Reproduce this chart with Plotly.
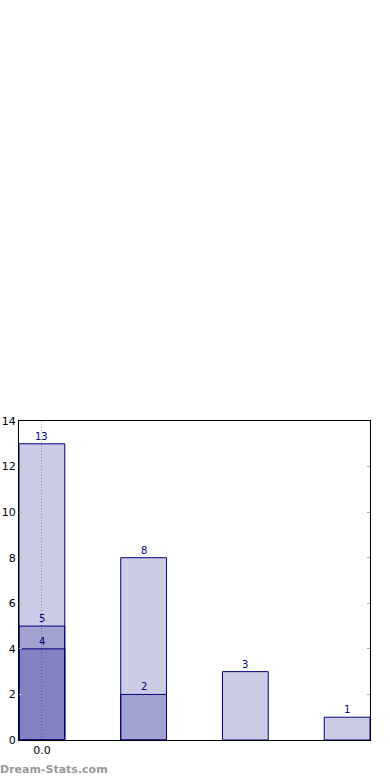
import plotly.graph_objects as go

categories = [0, 1, 2, 3]
series_total = [13, 8, 3, 1]
series_mid = [5, 2, None, None]
series_low = [4, None, None, None]
y_ticks = [0, 2, 4, 6, 8, 10, 12, 14]

NAVY = "#000080"
FILL = "rgba(0,0,128,0.2)"

fig = go.Figure()
for vals in (series_total, series_mid, series_low):
    fig.add_trace(go.Bar(
        x=categories, y=vals, width=0.45,
        marker=dict(color=FILL, line=dict(color=NAVY, width=1)),
        hoverinfo="skip", showlegend=False,
    ))

for vals in (series_total, series_mid, series_low):
    for xv, yv in zip(categories, vals):
        if yv is None:
            continue
        fig.add_annotation(
            x=xv, y=yv, text=str(yv), showarrow=False,
            yanchor="bottom", yshift=0,
            font=dict(family="DejaVu Sans", size=10, color=NAVY),
        )

fig.add_annotation(
    xref="paper", yref="paper", x=-0.06, y=-0.094,
    xanchor="left", yanchor="middle", showarrow=False,
    text="<b>Dream-Stats.com</b>",
    font=dict(family="DejaVu Sans", size=11, color="#999999"),
)

fig.update_layout(
    width=390, height=780,
    margin=dict(l=19, r=20, t=421, b=40, pad=0, autoexpand=False),
    plot_bgcolor="white", paper_bgcolor="white",
    barmode="overlay", bargap=0,
    font=dict(family="DejaVu Sans", size=11, color="black"),
    xaxis=dict(
        range=[-0.225, 3.225], tickvals=[0], ticktext=["0.0"],
        showgrid=True, gridcolor="#aaaaaa", griddash="1px,2px", gridwidth=1,
        showline=True, linecolor="black", linewidth=1, mirror=True,
        ticks="", zeroline=False, layer="above traces", automargin=False,
        tickfont=dict(size=11),
    ),
    yaxis=dict(
        range=[0, 14], tickvals=y_ticks, automargin=False,
        showgrid=False, zeroline=False,
        showline=True, linecolor="black", linewidth=1, mirror="allticks",
        ticks="inside", ticklen=3, tickcolor="#aaaaaa", tickwidth=1,
        tickfont=dict(size=11),
    ),
)

fig.write_html(
    "out.html",
    config={"displayModeBar": False, "staticPlot": True},
    post_script="document.body.style.margin='0';document.body.style.overflow='hidden';",
)
